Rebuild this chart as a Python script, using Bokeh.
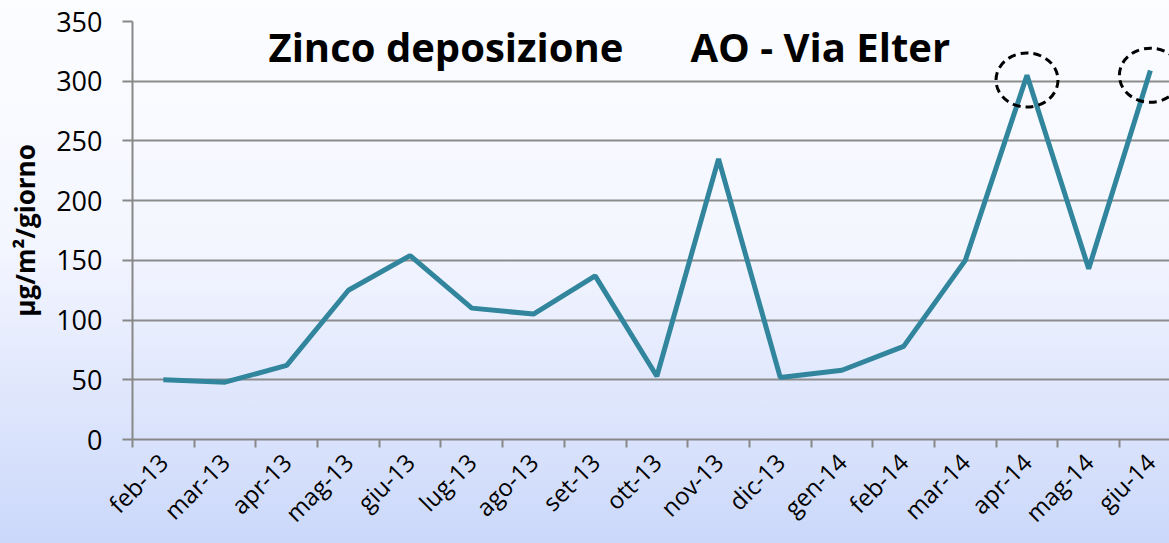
from bokeh.plotting import figure
from bokeh.models import Range1d, FixedTicker, Label
from bokeh.embed import file_html
from bokeh.resources import INLINE

months = ["feb-13", "mar-13", "apr-13", "mag-13", "giu-13", "lug-13", "ago-13",
          "set-13", "ott-13", "nov-13", "dic-13", "gen-14", "feb-14", "mar-14",
          "apr-14", "mag-14", "giu-14"]
zinco = [50, 48, 62, 125, 154, 110, 105, 137, 53, 235, 52, 58, 78, 150, 305, 143, 309]
highlighted = ["apr-14", "giu-14"]
y_ticks = [0, 50, 100, 150, 200, 250, 300, 350]

FONT = "Open Sans"
xs = list(range(len(months)))

p = figure(width=1169, height=543, output_backend="svg", toolbar_location=None,
           x_range=Range1d(-0.5, 16.31), y_range=Range1d(0, 350),
           min_border_left=132, min_border_right=0, min_border_top=21, min_border_bottom=104)
p.styles = {"background": "linear-gradient(to bottom, #fcfdff 0%, #f4f6ff 45%, #cbd8fa 100%)"}
p.background_fill_color = None
p.border_fill_color = None
p.outline_line_color = None

# x axis
p.xaxis.ticker = FixedTicker(ticks=xs, minor_ticks=[i - 0.5 for i in range(len(months) + 1)])
p.xaxis.major_label_overrides = {i: m for i, m in enumerate(months)}
p.xaxis.major_label_orientation = 0.785398
p.xaxis.major_tick_line_color = None
p.xaxis.minor_tick_line_color = "#888888"
p.xaxis.minor_tick_line_width = 2
p.xaxis.minor_tick_in = 0
p.xaxis.minor_tick_out = 8
p.xaxis.axis_line_color = "#888888"
p.xaxis.axis_line_width = 2
p.xaxis.major_label_text_font = FONT
p.xaxis.major_label_text_font_size = "24px"
p.xaxis.major_label_text_color = "black"
p.xaxis.major_label_standoff = 10
p.xgrid.grid_line_color = None

# y axis
p.yaxis.ticker = FixedTicker(ticks=y_ticks)
p.yaxis.axis_line_color = "#888888"
p.yaxis.axis_line_width = 2
p.yaxis.major_tick_line_color = "#888888"
p.yaxis.major_tick_line_width = 2
p.yaxis.major_tick_in = 0
p.yaxis.major_tick_out = 10
p.yaxis.minor_tick_line_color = None
p.yaxis.major_label_text_font = FONT
p.yaxis.major_label_text_font_size = "27px"
p.yaxis.major_label_text_color = "black"
p.yaxis.major_label_standoff = 20
p.yaxis.axis_label = "µg/m²/giorno"
p.yaxis.axis_label_text_font = FONT
p.yaxis.axis_label_text_font_style = "bold"
p.yaxis.axis_label_text_font_size = "26px"
p.yaxis.axis_label_text_color = "black"
p.yaxis.axis_label_standoff = 10
p.ygrid.grid_line_color = "#8c8c8c"
p.ygrid.grid_line_width = 2

p.line(xs, zinco, line_color="#31859c", line_width=5)

hx = [months.index(m) for m in highlighted]
hy = [zinco[i] - 4 for i in hx]
p.ellipse(hx, hy, width=62, height=54, width_units="screen", height_units="screen",
          fill_color=None, line_color="black", line_width=3, line_dash="8 5")

for txt, x in [("Zinco deposizione", 136), ("AO - Via Elter", 558)]:
    p.add_layout(Label(x=x, y=393, x_units="screen", y_units="screen", text=txt,
                       text_font=FONT, text_font_style="bold", text_font_size="40px",
                       text_color="black", text_baseline="middle"))

open("out.html", "w").write(file_html(p, INLINE))
